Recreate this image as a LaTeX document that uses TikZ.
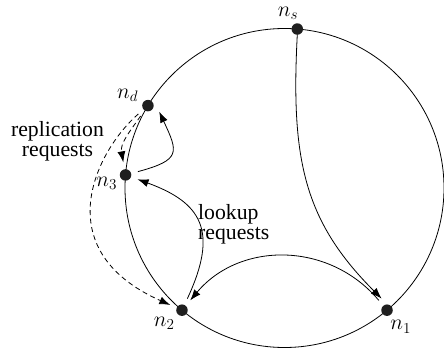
\RequirePackage{fix-cm}
\documentclass[tikz,border=0pt]{standalone}
\usepackage{fontspec}
\setmainfont{Liberation Serif}
\usetikzlibrary{arrows.meta,calc}
\begin{document}
\begin{tikzpicture}[x=1pt,y=1pt,
  dot/.style={circle,fill=black!88,minimum size=11.5pt,inner sep=0pt,outer sep=7pt},
  lbl/.style={inner sep=0pt,font=\fontsize{21.7}{20}\selectfont},
  ring/.style={line width=0.8pt},
  conn/.style={line width=0.8pt,-{Latex[length=11pt,width=8pt]}},
  dashconn/.style={conn,dash pattern=on 5pt off 3.5pt}]
\useasboundingbox (0,0) rectangle (444,351);
\coordinate (C) at (284.5,163);
\draw[ring] (C) circle (159.5);
\node[dot] (ns) at ($(C)+(85.4:159.5)$) {};
\node[dot] (nd) at ($(C)+(148.9:159.5)$) {};
\node[dot] (n3) at ($(C)+(175.3:159.5)$) {};
\node[dot] (n2) at ($(C)+(230:159.5)$) {};
\node[dot] (n1) at ($(C)+(310:159.5)$) {};
\node[lbl] (lns) at (288,338) {$n_s$};
\node[lbl] (lnd) at (127.7,255.7) {$n_d$};
\node[lbl] (ln3) at (106.7,167.7) {$n_3$};
\node[lbl] (ln2) at (164.2,27.7) {$n_2$};
\node[lbl] (ln1) at (400.8,24.3) {$n_1$};
\node[lbl,align=center,anchor=north] (rep) at (57.5,230) {replication\\requests};
\node[lbl,align=left,anchor=north west] (look) at (198,147) {lookup\\requests};
% connectors
\draw[conn] ([yshift=-5.5pt]ns.center) .. controls +(-93:125) and +(135:110) .. (n1.115);
\draw[conn] (n1) to[out=130,in=50,looseness=1.05] (n2);
\draw[conn] (n2.65) .. controls +(65:75) and +(-20:68) .. (n3.-20);
\draw[conn] (n3.15) .. controls +(15:45) and +(-65:45) .. (nd.-28);
\draw[dashconn] (nd) to[out=-125,in=100] (n3);
\draw[dashconn] (nd.-139) .. controls +(-139:55) and +(156:137) .. (n2.156);
\end{tikzpicture}
\end{document}
